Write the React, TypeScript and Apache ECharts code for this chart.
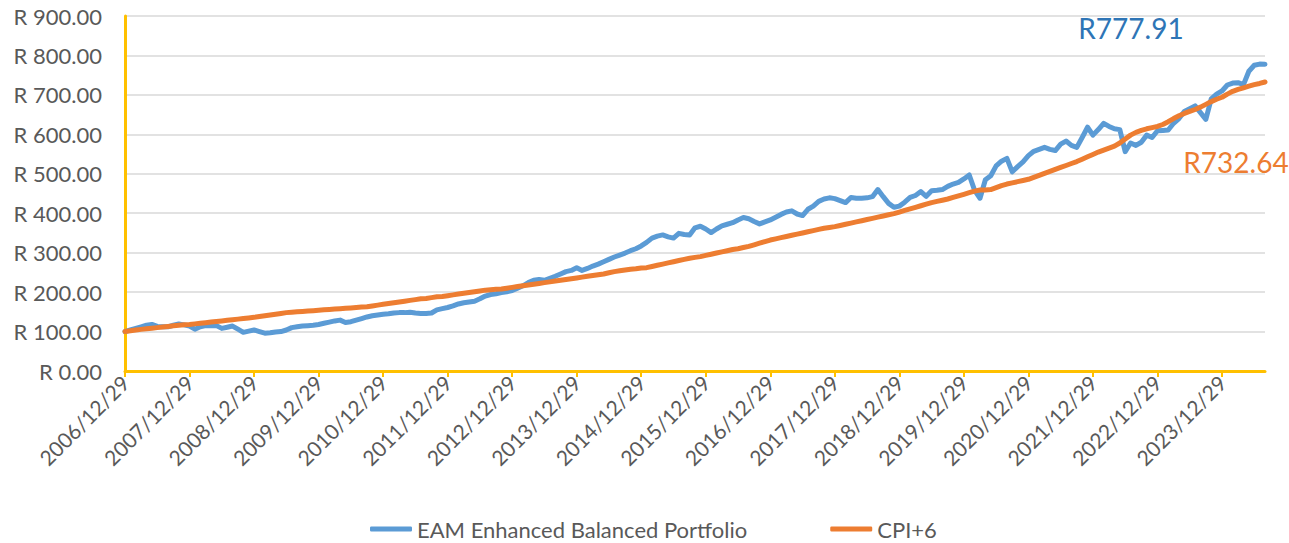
import React, { useEffect, useRef } from "react";
import * as echarts from "echarts";

// Monthly month-end dates from 2006/12 to 2024/08
const startYear = 2006;
const startMonth = 12;
const monthCount = 213;
const dates: string[] = [];
for (let i = 0; i < monthCount; i++) {
  const m0 = startMonth - 1 + i;
  const y = startYear + Math.floor(m0 / 12);
  const m = (m0 % 12) + 1;
  const d = m === 2 ? "28" : "29";
  dates.push(`${y}/${String(m).padStart(2, "0")}/${d}`);
}

const seriesNames = ["EAM Enhanced Balanced Portfolio", "CPI+6"];

const portfolio: number[] = [
  100, 104, 108, 112, 116, 118, 113, 112, 112, 116, 119, 117, 114,
  106, 112, 115, 115, 115, 108, 111, 114, 106, 98, 101, 104,
  100, 96, 97, 99, 100, 104, 110, 112, 114, 115, 116, 118,
  121, 124, 127, 129, 123, 125, 129, 133, 137, 140, 142, 144,
  145, 147, 148, 148, 149, 147, 146, 146, 147, 155, 158, 161,
  165, 170, 173, 175, 177, 183, 190, 194, 196, 199, 201, 204,
  210, 216, 224, 230, 232, 230, 235, 240, 246, 252, 255, 262,
  255, 260, 266, 271, 277, 283, 289, 294, 299, 305, 310, 317,
  326, 337, 342, 345, 340, 337, 349, 346, 345, 363, 367, 360,
  351, 360, 368, 372, 376, 383, 389, 386, 379, 373, 378, 383,
  390, 397, 403, 406, 398, 394, 410, 418, 430, 436, 439, 437,
  432, 427, 440, 438, 438, 439, 442, 460, 442, 425, 415, 418,
  428, 440, 445, 455, 443, 457, 458, 460, 468, 474, 478, 487,
  497, 458, 438, 485, 495, 520, 532, 539, 505, 518, 530, 546,
  557, 562, 567, 562, 559, 575, 583, 572, 567, 592, 618, 598,
  612, 628, 620, 614, 612, 556, 578, 572, 580, 598, 592, 609,
  610, 611, 628, 640, 658, 665, 672, 655, 638, 690, 702, 710,
  725, 730, 731, 726, 760, 775, 778, 777.91,
];

const cpiPlus6: number[] = [
  100, 102, 104, 105.5, 107, 108.5, 110, 111.5, 113, 114.5, 116, 117, 118,
  119.5, 121, 122.5, 124, 125.5, 127, 128.5, 130, 131.5, 133, 134.5, 136,
  138, 140, 142, 144, 146, 148, 149, 150, 151, 152, 153, 154,
  155, 156, 157, 158, 159, 160, 161, 162, 163, 165, 167, 169,
  171, 173, 175, 177, 179, 181, 183, 184, 186, 188, 189, 191,
  193, 195, 197, 199, 201, 203, 205, 206, 207, 208, 210, 212,
  214, 216, 218, 220, 222, 224, 226, 228, 230, 232, 234, 236,
  238, 240, 242, 244, 246, 249, 252, 254, 256, 258, 259, 261,
  262, 265, 268, 271, 274, 277, 280, 283, 286, 288, 290, 293,
  296, 299, 302, 305, 308, 310, 313, 316, 320, 324, 328, 332,
  335, 338, 341, 344, 347, 350, 353, 356, 359, 362, 364, 366,
  369, 372, 375, 378, 381, 384, 387, 390, 393, 396, 399, 403,
  407, 411, 415, 419, 423, 427, 430, 433, 436, 440, 444, 448,
  452, 456, 459, 459, 460, 465, 470, 474, 477, 480, 483, 486,
  491, 496, 501, 506, 511, 516, 521, 526, 531, 537, 543, 549,
  555, 560, 565, 570, 578, 588, 598, 605, 610, 614, 617, 620,
  625, 632, 640, 647, 653, 658, 663, 669, 676, 683, 689, 694,
  702, 709, 714, 718, 722, 726, 729, 732.64,
];

const FONT = "Lato, 'Open Sans', sans-serif";

function endMark(arr: number[], color: string, offset: number[]) {
  const last = arr[arr.length - 1];
  return {
    silent: true,
    symbol: "circle",
    symbolSize: 0,
    data: [{ coord: [arr.length - 1, last], value: last }],
    label: {
      show: true,
      position: "inside",
      formatter: "R" + last.toFixed(2),
      color,
      fontSize: 28,
      fontFamily: FONT,
      offset,
    },
  };
}

export default function App() {
  const ref = useRef<HTMLDivElement>(null);
  useEffect(() => {
    if (!ref.current) return;
    const chart = echarts.init(ref.current, null, { renderer: "svg" });
    chart.setOption({
      animation: false,
      backgroundColor: "#ffffff",
      grid: { left: 125, right: 24, top: 16, bottom: 172, containLabel: false },
      legend: {
        data: seriesNames,
        left: 365,
        top: 513,
        icon: "roundRect",
        itemWidth: 42,
        itemHeight: 5,
        itemGap: 83,
        textStyle: { fontSize: 22, color: "#595959", fontFamily: FONT },
      },
      xAxis: {
        type: "category",
        data: dates,
        boundaryGap: false,
        axisLine: { lineStyle: { color: "#FFC000", width: 3 } },
        axisTick: {
          show: true,
          interval: 11,
          length: 6,
          lineStyle: { color: "#FFC000", width: 2 },
        },
        axisLabel: {
          interval: 11,
          rotate: 45,
          fontSize: 21,
          color: "#595959",
          fontFamily: FONT,
          margin: 8,
        },
        splitLine: { show: false },
      },
      yAxis: {
        type: "value",
        min: 0,
        max: 900,
        interval: 100,
        axisLine: { show: true, lineStyle: { color: "#FFC000", width: 3 } },
        axisTick: { show: false },
        axisLabel: {
          formatter: (v: number) => "R " + v.toFixed(2),
          fontSize: 22,
          color: "#595959",
          fontFamily: FONT,
          margin: 23,
        },
        splitLine: { lineStyle: { color: "#D9D9D9", width: 1.5 } },
      },
      series: [
        {
          name: seriesNames[0],
          type: "line",
          data: portfolio,
          showSymbol: false,
          symbol: "none",
          color: "#5B9BD5",
          lineStyle: { color: "#5B9BD5", width: 5, cap: "round", join: "round" },
          markPoint: endMark(portfolio, "#2E75B6", [-134, -36]),
        },
        {
          name: seriesNames[1],
          type: "line",
          data: cpiPlus6,
          showSymbol: false,
          symbol: "none",
          color: "#ED7D31",
          lineStyle: { color: "#ED7D31", width: 5, cap: "round", join: "round" },
          markPoint: endMark(cpiPlus6, "#ED7D31", [-29, 80]),
        },
      ],
    });
    return () => chart.dispose();
  }, []);
  return (
    <div
      ref={ref}
      style={{ position: "absolute", left: 0, top: 0, width: 1289, height: 543 }}
    />
  );
}
